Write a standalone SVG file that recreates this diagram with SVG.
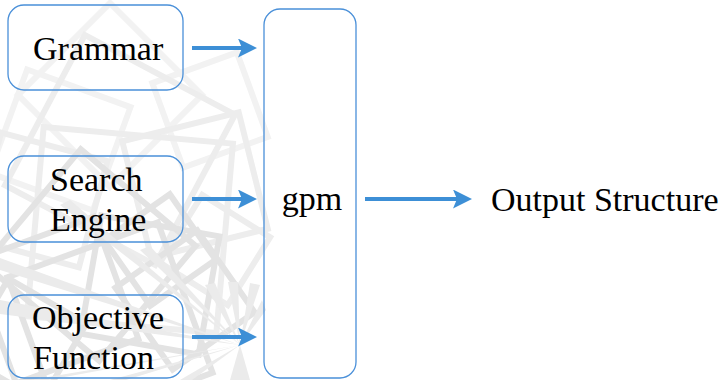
<svg xmlns="http://www.w3.org/2000/svg" width="724" height="380" viewBox="0 0 724 380">
  <defs>
    <style>
      .box { fill: none; stroke: #4a90d9; stroke-width: 1.3; }
      .wire { stroke: #3d8fd6; stroke-width: 4; fill: none; marker-end: url(#head); }
      .wm0 { fill: none; stroke: #f2f2f2; stroke-width: 6; }
      .wm { fill: none; stroke: #ededed; stroke-width: 6; }
      .wm2 { fill: none; stroke: #e3e3e3; stroke-width: 6; }
      .ray { fill: #ebebeb; }
    </style>
    <marker id="head" viewBox="0 0 19 19" markerWidth="19" markerHeight="19" refX="4" refY="9.5" orient="auto" markerUnits="userSpaceOnUse">
      <path d="M0,0 L19,9.5 L0,19 L4,9.5 Z" fill="#3d8fd6"/>
    </marker>
  </defs>

  <rect width="724" height="380" fill="#ffffff"/>

  <!-- faint background ornament of rotated squares and rays -->
  <g id="ornament">
    <g class="wm0">
      <rect x="-65" y="-65" width="130" height="130" transform="translate(110,95) rotate(45)"/>
      <rect x="-55" y="-55" width="110" height="110" transform="translate(60,140) rotate(20)"/>
      <rect x="-45" y="-45" width="90" height="90" transform="translate(210,110) rotate(-20)"/>
    </g>
    <g class="wm">
      <rect x="-85" y="-85" width="170" height="170" transform="translate(120,150) rotate(28)"/>
      <rect x="-60" y="-60" width="120" height="120" transform="translate(195,185) rotate(-14)"/>
      <rect x="-55" y="-55" width="110" height="110" transform="translate(40,200) rotate(15)"/>
      <rect x="-95" y="-95" width="190" height="190" transform="translate(130,230) rotate(5)"/>
      <rect x="-40" y="-40" width="80" height="80" transform="translate(215,250) rotate(32)"/>
    </g>
    <g class="wm2">
      <rect x="-75" y="-75" width="150" height="150" transform="translate(90,255) rotate(40)"/>
      <rect x="-60" y="-60" width="120" height="120" transform="translate(150,285) rotate(10)"/>
      <rect x="-65" y="-65" width="130" height="130" transform="translate(55,300) rotate(-20)"/>
      <rect x="-50" y="-50" width="100" height="100" transform="translate(185,300) rotate(55)"/>
      <rect x="-80" y="-80" width="160" height="160" transform="translate(110,325) rotate(70)"/>
      <rect x="-45" y="-45" width="90" height="90" transform="translate(25,340) rotate(30)"/>
      <rect x="-40" y="-40" width="80" height="80" transform="translate(160,250) rotate(-35)"/>
    </g>
    <g class="ray">
      <polygon points="240,345 0,258 0,270"/>
      <polygon points="240,345 0,300 0,314"/>
      <polygon points="240,345 30,380 48,380"/>
      <polygon points="240,345 110,380 126,380"/>
      <polygon points="240,345 180,380 192,380"/>
      <polygon points="240,345 60,205 70,200"/>
      <polygon points="240,345 140,250 150,246"/>
      <polygon points="240,345 205,285 215,283"/>
      <polygon points="240,345 228,282 238,282"/>
      <polygon points="240,345 250,283 260,285"/>
      <polygon points="240,345 262,300 266,310"/>
      <polygon points="240,345 230,380 250,380"/>
    </g>
  </g>

  <g id="connectors">
    <line class="wire" x1="192" y1="48" x2="242" y2="48"/>
    <line class="wire" x1="192" y1="199" x2="242" y2="199"/>
    <line class="wire" x1="192" y1="337" x2="242" y2="337"/>
    <line class="wire" x1="365" y1="199" x2="457" y2="199"/>
  </g>

  <g id="grammar">
    <rect class="box" x="8" y="5" width="175" height="85" rx="16"/>
    <text x="33" y="60" font-family="Liberation Serif, Times New Roman, serif" font-size="34">Grammar</text>
  </g>

  <g id="search-engine">
    <rect class="box" x="8" y="156" width="175" height="86" rx="16"/>
    <text x="50" y="191" font-family="Liberation Serif, Times New Roman, serif" font-size="34">Search</text>
    <text x="50" y="231" font-family="Liberation Serif, Times New Roman, serif" font-size="34">Engine</text>
  </g>

  <g id="objective-function">
    <rect class="box" x="8" y="295" width="175" height="83" rx="16"/>
    <text x="32" y="328.5" font-family="Liberation Serif, Times New Roman, serif" font-size="34">Objective</text>
    <text x="33" y="368.5" font-family="Liberation Serif, Times New Roman, serif" font-size="34">Function</text>
  </g>

  <g id="gpm">
    <rect class="box" x="264" y="9" width="92" height="369" rx="16"/>
    <text x="312" y="210" text-anchor="middle" font-family="Liberation Serif, Times New Roman, serif" font-size="34">gpm</text>
  </g>

  <g id="output">
    <text x="491" y="211" font-family="Liberation Serif, Times New Roman, serif" font-size="34">Output Structure</text>
  </g>
</svg>
